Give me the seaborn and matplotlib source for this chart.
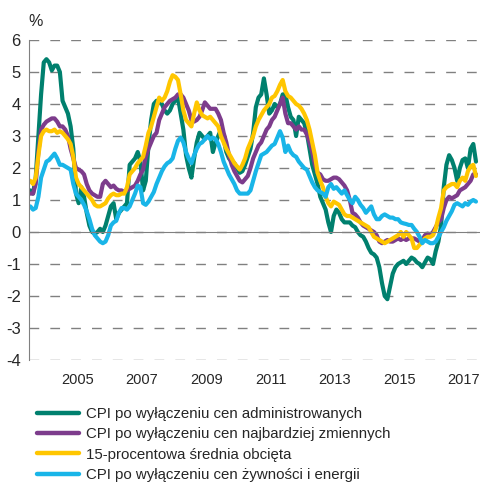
import numpy as np
import pandas as pd
import matplotlib
matplotlib.use('Agg')
from matplotlib import pyplot as plt
import seaborn as sns

sns.set_style('white')
plt.rcParams['font.family'] = ['Liberation Sans', 'DejaVu Sans']
plt.rcParams['axes.unicode_minus'] = False

# dane miesięczne od 2004-01
start_year = 2004
year_labels = ['2005', '2007', '2009', '2011', '2013', '2015', '2017']

series_names = ['CPI po wyłączeniu cen administrowanych',
                'CPI po wyłączeniu cen najbardziej zmiennych',
                '15-procentowa średnia obcięta',
                'CPI po wyłączeniu cen żywności i energii']
colors = ['#00806E', '#7D3C8C', '#FFC600', '#19B5E8']

admin = [1.3, 1.2, 1.7, 3.0, 4.3, 5.3, 5.4, 5.3, 5.05, 5.2, 5.2, 5.0,
         4.1, 3.9, 3.7, 3.3, 2.6, 1.2, 0.9, 1.4, 1.1, 0.6, 0.2, 0.0,
         -0.05, 0.0, 0.1, 0.0, 0.2, 0.5, 0.8, 0.9, 0.4, 0.6, 0.7, 0.8,
         0.9, 2.1, 2.2, 2.3, 2.5, 2.2, 1.3, 1.6, 2.7, 3.5, 4.0, 4.1,
         4.1, 4.0, 3.8, 3.7, 3.8, 4.0, 4.1, 4.2, 3.7, 3.2, 2.4, 2.0,
         1.7, 2.3, 2.8, 3.1, 3.0, 2.9, 3.0, 3.1, 2.5, 2.8, 3.0, 3.2,
         2.9, 2.5, 2.3, 2.2, 2.15, 2.0, 1.85, 1.9, 2.1, 2.35, 2.6, 3.1,
         3.9, 4.2, 4.3, 4.8, 4.3, 3.7, 3.8, 4.0, 3.9, 4.0, 4.3, 4.3,
         3.9, 3.6, 3.5, 3.0, 3.6, 3.5, 3.4, 3.1, 2.6, 2.1, 1.8, 1.5,
         1.1, 0.9, 0.7, 0.3, 0.0, 0.5, 0.7, 0.6, 0.4, 0.3, 0.3, 0.3,
         0.2, 0.15, 0.0, -0.1, -0.15, -0.3, -0.5, -0.65, -0.7, -0.8, -1.1, -1.6,
         -2.0, -2.1, -1.7, -1.3, -1.1, -1.0, -0.95, -0.9, -1.0, -0.9, -0.8, -0.85,
         -0.95, -1.0, -1.1, -0.95, -0.8, -0.85, -1.0, -0.6, -0.3, 0.2, 1.4, 2.1,
         2.4, 2.25, 2.0, 1.6, 2.0, 2.25, 2.3, 2.0, 2.6, 2.75, 2.2]

volatile = [1.2, 1.2, 1.5, 2.5, 3.2, 3.35, 3.45, 3.5, 3.55, 3.55, 3.45, 3.3,
            3.3, 3.2, 3.0, 2.6, 2.3, 2.0, 1.95, 1.9, 1.8, 1.5, 1.3, 1.2,
            1.15, 1.1, 1.1, 1.5, 1.6, 1.5, 1.4, 1.45, 1.35, 1.3, 1.3, 1.25,
            1.3, 1.35, 1.4, 1.45, 1.6, 1.8, 1.95, 2.35, 2.6, 2.8, 3.0, 3.1,
            3.5, 3.7, 3.9, 4.0, 4.1, 4.15, 4.2, 4.3, 4.3, 4.2, 4.0, 3.8,
            3.5, 3.45, 3.5, 3.6, 3.8, 4.05, 3.95, 3.85, 3.85, 3.85, 3.7, 3.5,
            3.1, 2.8, 2.4, 2.1, 1.9, 1.75, 1.6, 1.55, 1.65, 1.75, 2.0, 2.3,
            2.5, 2.7, 2.8, 3.0, 3.2, 3.3, 3.5, 3.6, 3.8, 4.0, 4.2, 3.7,
            3.4, 3.4, 3.3, 3.2, 3.3, 3.2, 3.2, 3.05, 2.8, 2.5, 2.1, 1.85,
            1.8, 1.65, 1.6, 1.6, 1.65, 1.7, 1.7, 1.65, 1.55, 1.45, 1.3, 1.0,
            0.6, 0.55, 0.45, 0.3, 0.2, 0.15, 0.1, 0.05, 0.0, -0.1, -0.3, -0.35,
            -0.3, -0.25, -0.3, -0.3, -0.25, -0.2, -0.25, -0.2, -0.25, -0.2, -0.2, -0.2,
            -0.25, -0.3, -0.25, -0.1, -0.05, -0.1, 0.0, 0.15, 0.3, 0.4, 0.75, 1.0,
            1.1, 1.05, 1.1, 1.15, 1.3, 1.35, 1.4, 1.5, 1.6, 1.8, 1.8]

trimmed = [1.6, 1.5, 1.7, 2.4, 3.0, 3.15, 3.2, 3.15, 3.15, 3.2, 3.1, 3.15,
           3.1, 3.0, 2.9, 2.75, 2.35, 1.7, 1.5, 1.4, 1.3, 1.2, 1.1, 1.0,
           0.85, 0.8, 0.8, 0.85, 0.9, 1.05, 1.15, 1.2, 1.15, 1.15, 1.2, 1.2,
           1.4, 1.8, 1.9, 2.0, 2.15, 2.25, 2.35, 2.7, 3.1, 3.3, 3.6, 3.9,
           4.2, 4.1, 4.2, 4.4, 4.7, 4.9, 4.85, 4.75, 4.3, 3.8, 3.5, 3.4,
           3.3, 3.7, 4.05, 3.8, 3.65, 3.6, 3.55, 3.6, 3.5, 3.4, 3.3, 3.0,
           2.8, 2.6, 2.45, 2.3, 2.15, 2.05, 1.95, 2.1, 2.3, 2.6, 2.8, 3.0,
           3.3, 3.5, 3.65, 3.8, 3.9, 4.0, 4.2, 4.25, 4.4, 4.6, 4.75, 4.4,
           4.25, 4.2, 4.1, 4.0, 3.95, 3.85, 3.7, 3.5, 3.2, 2.8, 2.4, 1.85,
           1.6, 1.4, 1.1, 0.9, 0.8, 0.95, 0.9, 0.85, 0.7, 0.55, 0.5, 0.5,
           0.45, 0.4, 0.35, 0.3, 0.25, 0.2, 0.15, 0.0, -0.15, -0.2, -0.25, -0.3,
           -0.35, -0.3, -0.25, -0.2, -0.15, -0.1, 0.0, -0.15, 0.0, -0.1, -0.2, -0.5,
           -0.5, -0.4, -0.3, -0.2, -0.15, -0.15, -0.1, 0.1, 0.45, 0.75, 1.3, 1.4,
           1.45, 1.5, 1.5, 1.4, 1.6, 1.7, 1.6, 1.9, 2.05, 2.1, 1.75]

food_energy = [0.8, 0.7, 0.75, 1.1, 1.7, 1.95, 2.2, 2.25, 2.35, 2.45, 2.3, 2.1,
               2.1, 2.05, 2.0, 1.95, 1.5, 1.2, 1.1, 1.0, 0.85, 0.65, 0.4, 0.1,
               -0.1, -0.2, -0.3, -0.35, -0.3, -0.1, 0.2, 0.3, 0.35, 0.6, 0.75, 0.75,
               0.7, 0.8, 1.0, 1.2, 1.45, 1.4, 0.9, 0.85, 0.95, 1.1, 1.25, 1.5,
               1.7, 1.9, 2.05, 2.15, 2.2, 2.3, 2.6, 2.85, 2.95, 2.8, 2.5, 2.3,
               2.15, 2.4, 2.6, 2.75, 2.8, 2.9, 3.0, 2.9, 2.95, 2.9, 2.75, 2.5,
               2.2, 2.0, 1.8, 1.65, 1.5, 1.3, 1.2, 1.2, 1.2, 1.2, 1.3, 1.6,
               1.9, 2.15, 2.4, 2.45, 2.5, 2.6, 2.7, 2.75, 2.95, 3.15, 2.95, 2.5,
               2.7, 2.5, 2.4, 2.35, 2.2, 2.1, 2.0, 1.95, 1.75, 1.55, 1.4, 1.3,
               1.25, 1.2, 1.1, 1.4, 1.5, 1.35, 1.4, 1.3, 1.2, 1.3, 1.15, 1.0,
               0.9, 1.1, 1.0, 0.85, 0.75, 0.6, 0.7, 0.8, 0.55, 0.4, 0.4, 0.5,
               0.55, 0.5, 0.45, 0.45, 0.4, 0.4, 0.3, 0.27, 0.25, 0.22, 0.22, 0.1,
               0.0, -0.15, -0.35, -0.25, -0.3, -0.35, -0.35, -0.3, -0.15, 0.0, 0.15, 0.35,
               0.5, 0.65, 0.85, 0.9, 0.85, 0.8, 0.9, 0.85, 0.95, 1.0, 0.95]

n = len(admin)
t = start_year + (np.arange(n) + 0.5) / 12
df = pd.DataFrame({'t': t,
                   series_names[0]: admin,
                   series_names[1]: volatile,
                   series_names[2]: trimmed,
                   series_names[3]: food_energy})
long = df.melt(id_vars='t', var_name='seria', value_name='v')

fig = plt.figure(figsize=(4.8, 4.84), dpi=100)
ax = fig.add_axes([29 / 480, 1 - 360 / 484, 1 - 29 / 480, 320 / 484])

sns.lineplot(data=long, x='t', y='v', hue='seria', hue_order=series_names,
             palette=dict(zip(series_names, colors)), linewidth=3,
             solid_joinstyle='round', ax=ax)

gray = '#808080'
ax.set_xlim(2004, 2018)
ax.set_ylim(-4, 6)
ax.set_yticks(range(-4, 7))
ax.set_xticks(range(2004, 2019))
ax.set_xticklabels([])
ax.set_xlabel('')
ax.set_ylabel('')
ax.yaxis.grid(True, color=gray, linestyle=(0, (7, 8)), linewidth=1.0)
ax.xaxis.grid(False)
ax.set_axisbelow(True)
for s in ['top', 'right']:
    ax.spines[s].set_visible(False)
ax.spines['bottom'].set_position(('data', 0))
ax.spines['bottom'].set_color(gray)
ax.spines['left'].set_color(gray)
ax.tick_params(axis='x', direction='out', length=4, color=gray, width=1)
ax.tick_params(axis='y', direction='out', length=3, color=gray, width=1,
               labelsize=12, pad=3)

sec = ax.secondary_xaxis('bottom')
sec.set_xticks(np.arange(2005.5, 2018, 2))
sec.set_xticklabels(year_labels)
sec.tick_params(length=0, pad=9, labelsize=10.5)
sec.spines['bottom'].set_visible(False)

fig.text(36 / 480, 1 - 21 / 484, '%', ha='center', va='center', fontsize=11.5)

handles, labels = ax.get_legend_handles_labels()
ax.get_legend().remove()
leg = fig.legend(handles, labels, loc='upper left',
                 bbox_to_anchor=(37 / 480, 1 - 407 / 484), frameon=False,
                 fontsize=10.8, handlelength=2.8, handletextpad=0.5,
                 labelspacing=0.42, borderpad=0, borderaxespad=0)
for h in leg.get_lines():
    h.set_linewidth(3.2)

fig.savefig('out.png', dpi=100)
